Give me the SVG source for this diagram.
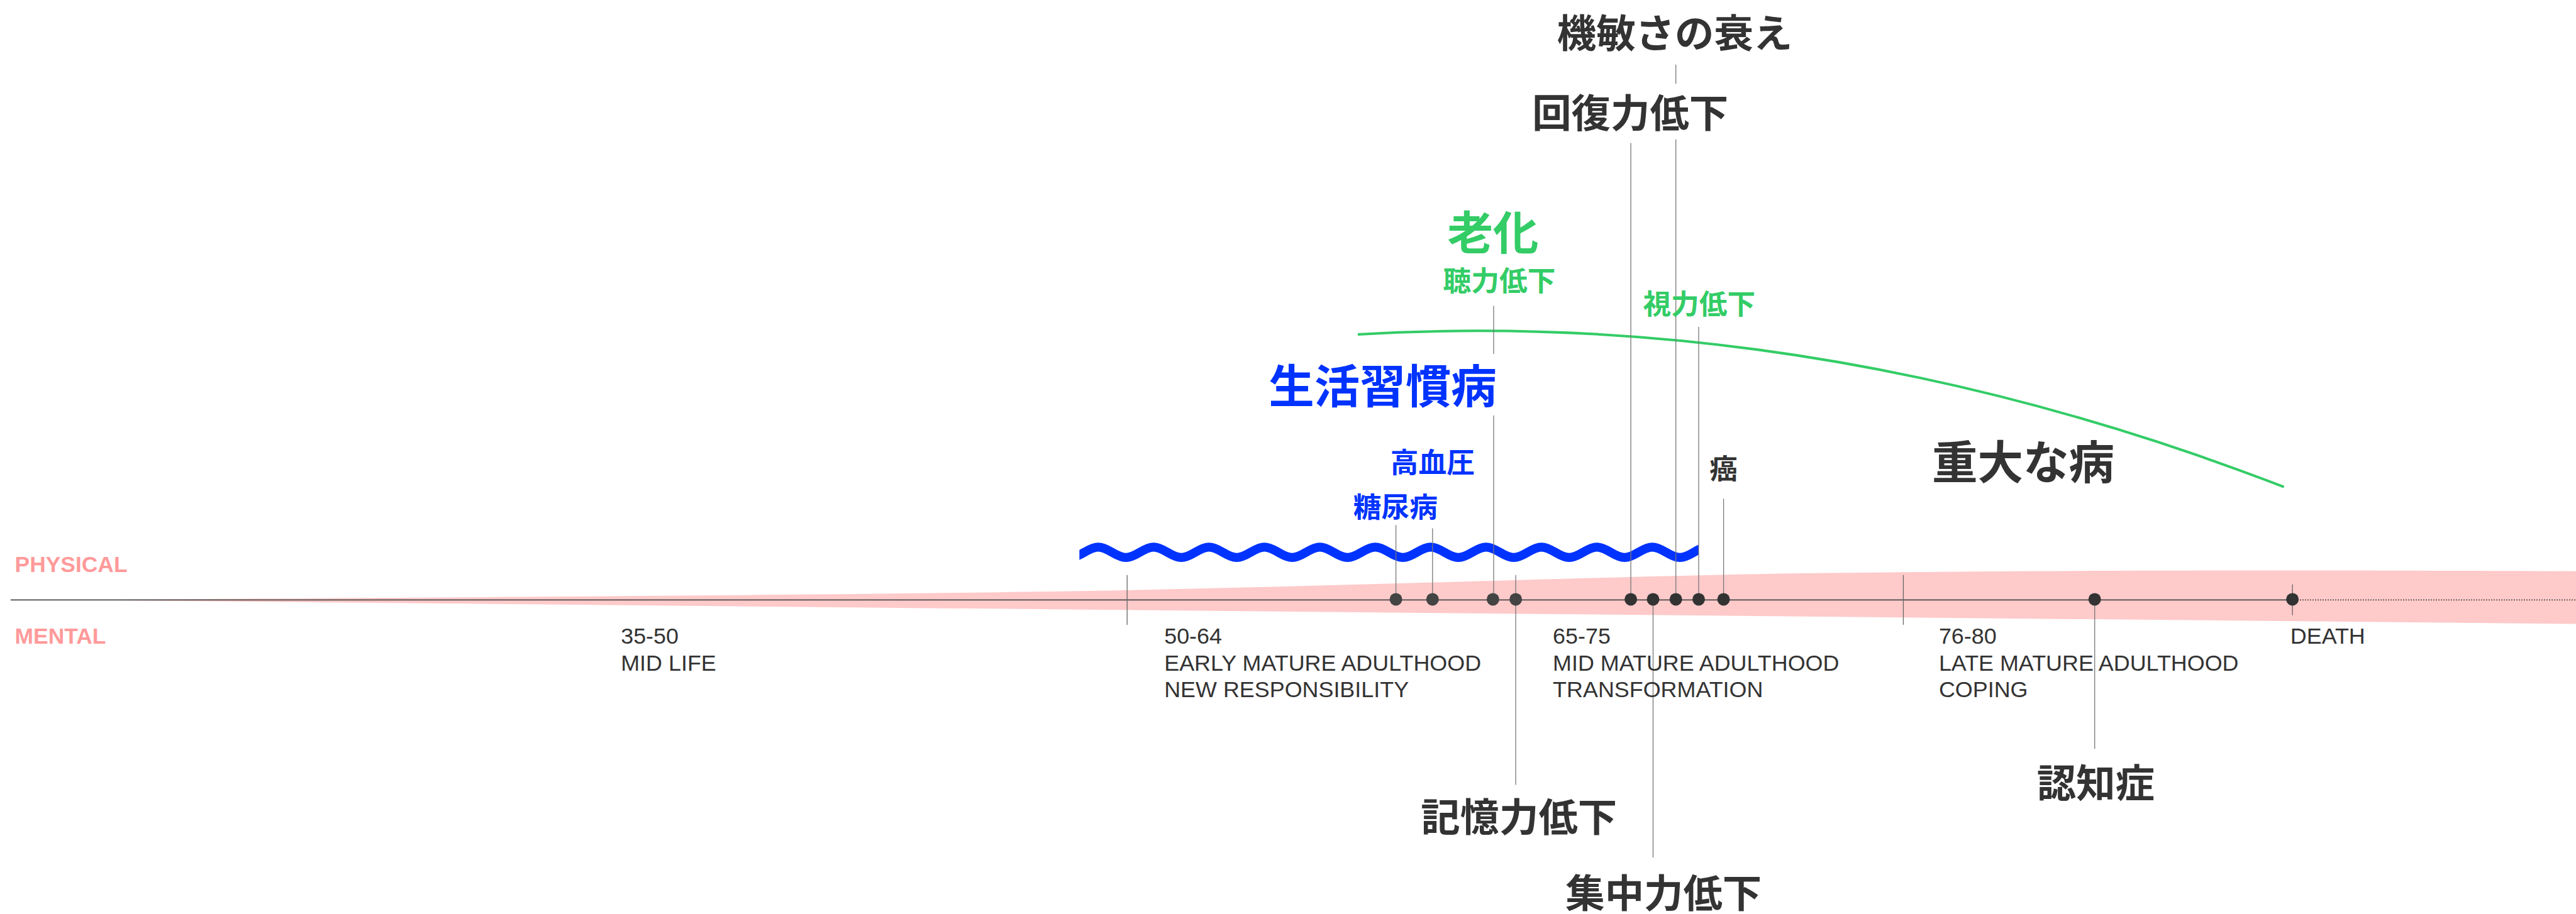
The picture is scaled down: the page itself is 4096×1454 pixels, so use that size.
<svg xmlns="http://www.w3.org/2000/svg" width="4096" height="1454" viewBox="0 0 4096 1454">
<style>
.lat{font-family:"Liberation Sans",Arial,sans-serif;font-size:35.9px;fill:#333}
.side{font-family:"Liberation Sans",Arial,sans-serif;font-size:35.4px;font-weight:700;fill:#ff9a9a}
.jp{font-family:"Noto Sans CJK JP",sans-serif;font-weight:700;text-anchor:middle}
.big{font-size:72.5px}.mid{font-size:62.4px}.sm{font-size:44.7px}
.dk{fill:#333}.gr{fill:#33cc66}.bl{fill:#0033ff}
.ln{stroke:#777;stroke-width:1.3;fill:none}
.tk{stroke:#666;stroke-width:1.3;fill:none}
.dot{fill:#333}.dot2{fill:#444}
</style>
<defs>
<clipPath id="wclip"><rect x="1716.3" y="820" width="984.7" height="120"/></clipPath>
</defs>
<rect width="4096" height="1454" fill="#fff"/>
<g id="band">
<path d="M106.2,954.3 C843,950.1 1348.8,945.8 1686,940.8 C2107.5,934 2529,917.2 2866.2,912.1 C3203.4,907.9 3582.8,906.2 4100,908.8 L4100,992.5 Z" fill="#ffcaca"/>
</g>
<g id="axis">
<line x1="16.9" y1="954.3" x2="3645" y2="954.3" stroke="#4a4a4a" stroke-width="1.8"/>
<line x1="3645" y1="954.3" x2="4096" y2="954.3" stroke="#555" stroke-width="1.8" stroke-dasharray="2 2"/>
<line class="tk" x1="1792.2" y1="914.7" x2="1792.2" y2="993.9"/>
<line class="tk" x1="3026.4" y1="914.7" x2="3026.4" y2="993.9"/>
<line class="tk" x1="3645.1" y1="929.8" x2="3645.1" y2="978.7"/>
</g>
<g id="side-labels">
<text class="side" x="23.6" y="909.6">PHYSICAL</text>
<text class="side" x="23.6" y="1024.2">MENTAL</text>
</g>
<g id="aging-curve">
<path d="M2159,531.9 Q2893.5,489 3631.6,774.7" fill="none" stroke="#33cc66" stroke-width="4"/>
</g>
<g id="lifestyle-wave" clip-path="url(#wclip)">
<path d="M1680.15,878.6 C1698.85,889.67 1705.5,889.67 1724.2,878.6 S1749.555,867.53 1768.25,878.6 S1793.605,889.67 1812.3,878.6 S1837.655,867.53 1856.35,878.6 S1881.705,889.67 1900.4,878.6 S1925.755,867.53 1944.45,878.6 S1969.805,889.67 1988.5,878.6 S2013.855,867.53 2032.55,878.6 S2057.905,889.67 2076.6,878.6 S2101.955,867.53 2120.65,878.6 S2146.005,889.67 2164.7,878.6 S2190.055,867.53 2208.75,878.6 S2234.105,889.67 2252.8,878.6 S2278.155,867.53 2296.85,878.6 S2322.205,889.67 2340.9,878.6 S2366.255,867.53 2384.95,878.6 S2410.305,889.67 2429,878.6 S2454.355,867.53 2473.05,878.6 S2498.405,889.67 2517.1,878.6 S2542.455,867.53 2561.15,878.6 S2586.505,889.67 2605.2,878.6 S2630.555,867.53 2649.25,878.6 S2674.605,889.67 2693.3,878.6 S2718.655,867.53 2737.35,878.6" fill="none" stroke="#0033ff" stroke-width="14.3"/>
</g>
<g id="connectors">
<line class="ln" x1="2219.6" y1="835.4" x2="2219.6" y2="953.4"/>
<line class="ln" x1="2277.8" y1="840.5" x2="2277.8" y2="953.4"/>
<line class="ln" x1="2375" y1="660.9" x2="2375" y2="953.4"/>
<line class="ln" x1="2375" y1="486.4" x2="2375" y2="563.1"/>
<line class="ln" x1="2410.1" y1="914.7" x2="2410.1" y2="1248.5"/>
<line class="ln" x1="2593.1" y1="227.6" x2="2593.1" y2="953.4"/>
<line class="ln" x1="2628.5" y1="953.4" x2="2628.5" y2="1364"/>
<line class="ln" x1="2664.7" y1="102.8" x2="2664.7" y2="133.2"/>
<line class="ln" x1="2664.7" y1="221.7" x2="2664.7" y2="953.4"/>
<line class="ln" x1="2701" y1="520.1" x2="2701" y2="953.4"/>
<line class="ln" x1="2740.6" y1="793.3" x2="2740.6" y2="953.4"/>
<line class="ln" x1="3330.7" y1="953.4" x2="3330.7" y2="1191.2"/>
</g>
<g id="dots">
<circle class="dot2" cx="2219.6" cy="953.4" r="10"/>
<circle class="dot2" cx="2277.8" cy="953.4" r="10"/>
<circle class="dot2" cx="2373.9" cy="953.4" r="10"/>
<circle class="dot2" cx="2410.1" cy="953.4" r="10"/>
<circle class="dot" cx="2593.1" cy="953.4" r="10"/>
<circle class="dot" cx="2628.5" cy="953.4" r="10"/>
<circle class="dot" cx="2664.7" cy="953.4" r="10"/>
<circle class="dot" cx="2701" cy="953.4" r="10"/>
<circle class="dot" cx="2740.6" cy="953.4" r="10"/>
<circle class="dot" cx="3330.7" cy="953.4" r="10"/>
<circle class="dot" cx="3645.1" cy="953.4" r="10"/>
</g>
<g id="stage-35-50"><text class="lat" x="987.2" y="1024.2">35-50</text><text class="lat" x="987.2" y="1066.8">MID LIFE</text></g>
<g id="stage-50-64"><text class="lat" x="1851.2" y="1024.2">50-64</text><text class="lat" x="1851.2" y="1066.8">EARLY MATURE ADULTHOOD</text><text class="lat" x="1851.2" y="1109.4">NEW RESPONSIBILITY</text></g>
<g id="stage-65-75"><text class="lat" x="2469.1" y="1024.2">65-75</text><text class="lat" x="2469.1" y="1066.8">MID MATURE ADULTHOOD</text><text class="lat" x="2469.1" y="1109.4">TRANSFORMATION</text></g>
<g id="stage-76-80"><text class="lat" x="3082.9" y="1024.2">76-80</text><text class="lat" x="3082.9" y="1066.8">LATE MATURE ADULTHOOD</text><text class="lat" x="3082.9" y="1109.4">COPING</text></g>
<g id="stage-death"><text class="lat" x="3641.8" y="1024.2">DEATH</text></g>
<g id="kibinsa"><text class="jp mid dk" x="2663" y="76.4">機敏さの衰え</text></g>
<g id="kaifukuryoku"><text class="jp mid dk" x="2592.2" y="202.8">回復力低下</text></g>
<g id="roka"><text class="jp big gr" x="2373.9" y="396.9">老化</text></g>
<g id="choryoku"><text class="jp sm gr" x="2384" y="463.2">聴力低下</text></g>
<g id="shiryoku"><text class="jp sm gr" x="2701.8" y="499.5">視力低下</text></g>
<g id="seikatsu"><text class="jp big bl" x="2198.5" y="641.4">生活習慣病</text></g>
<g id="koketsuatsu"><text class="jp sm bl" x="2277.8" y="752.4">高血圧</text></g>
<g id="tonyobyo"><text class="jp sm bl" x="2218.8" y="823.4">糖尿病</text></g>
<g id="gan"><text class="jp sm dk" x="2740.6" y="762.2">癌</text></g>
<g id="judai"><text class="jp big dk" x="3216.9" y="762.2">重大な病</text></g>
<g id="kioku"><text class="jp mid dk" x="2415.2" y="1322.6">記憶力低下</text></g>
<g id="shuchu"><text class="jp mid dk" x="2645.3" y="1444">集中力低下</text></g>
<g id="ninchi"><text class="jp mid dk" x="3332.4" y="1268.6">認知症</text></g>
</svg>
